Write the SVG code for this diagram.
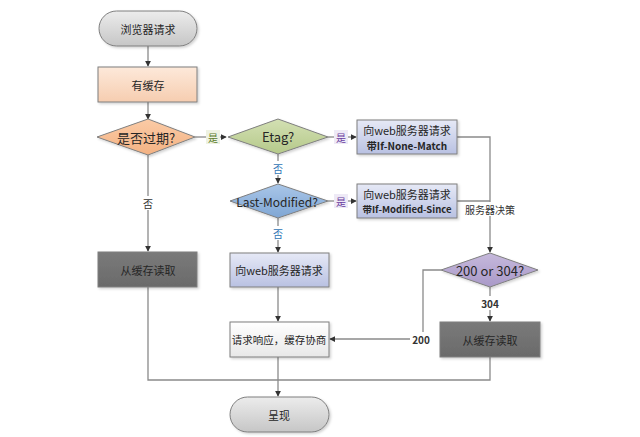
<svg xmlns="http://www.w3.org/2000/svg" width="640" height="437" viewBox="0 0 640 437">
<defs>
<linearGradient id="gGray" x1="0" y1="0" x2="0" y2="1"><stop offset="0" stop-color="#ececec"/><stop offset="1" stop-color="#c6c6c6"/></linearGradient>
<linearGradient id="gPeach" x1="0" y1="0" x2="0" y2="1"><stop offset="0" stop-color="#fde9da"/><stop offset="1" stop-color="#f6cdb0"/></linearGradient>
<linearGradient id="gOrange" x1="0" y1="0" x2="0" y2="1"><stop offset="0" stop-color="#fbcba6"/><stop offset="1" stop-color="#f3b283"/></linearGradient>
<linearGradient id="gGreen" x1="0" y1="0" x2="0" y2="1"><stop offset="0" stop-color="#d3e0b3"/><stop offset="1" stop-color="#b5c98a"/></linearGradient>
<linearGradient id="gBlue" x1="0" y1="0" x2="0" y2="1"><stop offset="0" stop-color="#a9c6e8"/><stop offset="1" stop-color="#7fa6d4"/></linearGradient>
<linearGradient id="gLav" x1="0" y1="0" x2="0" y2="1"><stop offset="0" stop-color="#e6e9f6"/><stop offset="1" stop-color="#b9c1e2"/></linearGradient>
<linearGradient id="gPurple" x1="0" y1="0" x2="0" y2="1"><stop offset="0" stop-color="#c6b9dc"/><stop offset="1" stop-color="#a999c8"/></linearGradient>
<linearGradient id="gWhite" x1="0" y1="0" x2="0" y2="1"><stop offset="0" stop-color="#ffffff"/><stop offset="1" stop-color="#e8e8e8"/></linearGradient>
<linearGradient id="gDark" x1="0" y1="0" x2="0" y2="1"><stop offset="0" stop-color="#7a7a7a"/><stop offset="1" stop-color="#6a6a6a"/></linearGradient>
<filter id="sh" x="-10%" y="-10%" width="125%" height="130%"><feDropShadow dx="1.5" dy="1.5" stdDeviation="1" flood-color="#000" flood-opacity="0.18"/></filter>
<marker id="arr" viewBox="0 0 8 8" refX="7" refY="4" markerWidth="6" markerHeight="6" orient="auto" markerUnits="userSpaceOnUse"><path d="M0,0 L8,4 L0,8 z" fill="#333"/></marker>
</defs>
<style>
.n{stroke:#7f7f7f;stroke-width:1;filter:url(#sh)}
.t{font-family:"Microsoft YaHei","Noto Sans CJK SC","Noto Sans",sans-serif;font-size:11px;fill:#262626;text-anchor:middle;dominant-baseline:central}
.b{font-weight:bold}
.big{font-size:13px}
.m{font-size:12px}
.s{font-size:10px}
.xs{font-size:9.5px}
.c{fill:none;stroke:#8a8a8a;stroke-width:1.3}
.a{marker-end:url(#arr)}
.l{font-family:"Microsoft YaHei","Noto Sans CJK SC","Noto Sans",sans-serif;font-size:10px;text-anchor:middle;dominant-baseline:central}
</style>
<rect width="640" height="437" fill="#ffffff"/>
<g id="connectors">
<path class="c a" d="M148,46 V66"/>
<path class="c a" d="M148,102 V119"/>
<path class="c a" d="M195,137 H226"/>
<path class="c a" d="M328,137 H356"/>
<path class="c a" d="M278,154 V183"/>
<path class="c a" d="M328,201 H356"/>
<path class="c" d="M457,137 H490 V201"/>
<path class="c" d="M457,201 H490"/>
<path class="c a" d="M490,201 V252"/>
<path class="c a" d="M148,155 V251"/>
<path class="c a" d="M278,218 V252"/>
<path class="c a" d="M278,287 V321"/>
<path class="c a" d="M490,287 V321"/>
<path class="c a" d="M441,270 H423 V339 H330"/>
<path class="c" d="M148,287 V380 H490 V357"/>
<path class="c a" d="M278,357 V396"/>
<g id="labels">
<rect x="206" y="130" width="14" height="14" fill="#eef2e2"/>
<text class="l" x="213" y="137" fill="#5a7a2a">是</text>
<rect x="334" y="130" width="14" height="14" fill="#eeeaf6"/>
<text class="l" x="341" y="137" fill="#6a3aa0">是</text>
<rect x="334" y="194" width="14" height="14" fill="#eeeaf6"/>
<text class="l" x="341" y="201" fill="#6a3aa0">是</text>
<rect x="271" y="161" width="14" height="14" fill="#ffffff"/>
<text class="l" x="278" y="168" fill="#2f75b5">否</text>
<rect x="271" y="226" width="14" height="14" fill="#ffffff"/>
<text class="l" x="278" y="233" fill="#2f75b5">否</text>
<rect x="141" y="196" width="14" height="14" fill="#ffffff"/>
<text class="l" x="148" y="203" fill="#333">否</text>
<rect x="464" y="202" width="52" height="14" fill="#ffffff"/>
<text class="l" x="490" y="209" fill="#333">服务器决策</text>
<rect x="480" y="296" width="20" height="14" fill="#ffffff"/>
<text class="l" x="490" y="303" fill="#333" font-weight="bold">304</text>
<rect x="410" y="332" width="22" height="14" fill="#ffffff"/>
<text class="l" x="421" y="339" fill="#333" font-weight="bold">200</text>
</g>
</g>
<g id="start"><rect class="n" x="99" y="11" width="98" height="35" rx="17.5" fill="url(#gGray)"/><text class="t" x="148" y="28.5">浏览器请求</text></g>
<g id="hasCache"><rect class="n" x="98" y="67" width="99" height="35" fill="url(#gPeach)"/><text class="t" x="148" y="84.5">有缓存</text></g>
<g id="expired"><polygon class="n" points="148,119 195,137 148,155 97,137" fill="url(#gOrange)"/><text class="t big" x="146" y="137">是否过期?</text></g>
<g id="etag"><polygon class="n" points="278,119 328,137 278,154 228,137" fill="url(#gGreen)"/><text class="t big" x="278" y="136.5">Etag?</text></g>
<g id="reqNoneMatch"><rect class="n" x="357" y="120" width="100" height="34" fill="url(#gLav)"/><text class="t" x="407" y="130">向web服务器请求</text><text class="t b s" x="407" y="145">带If-None-Match</text></g>
<g id="lastModified"><polygon class="n" points="278,184 328,201 278,218 230,201" fill="url(#gBlue)"/><text class="t m" x="277" y="201">Last-Modified?</text></g>
<g id="reqModifiedSince"><rect class="n" x="357" y="184" width="100" height="34" fill="url(#gLav)"/><text class="t" x="407" y="194">向web服务器请求</text><text class="t b xs" x="407" y="209">带If-Modified-Since</text></g>
<g id="readCache1"><rect class="n" x="98" y="252" width="99" height="35" fill="url(#gDark)" stroke="#555"/><text class="t" x="148" y="269.5">从缓存读取</text></g>
<g id="reqServer"><rect class="n" x="230" y="253" width="99" height="34" fill="url(#gLav)"/><text class="t" x="279" y="270">向web服务器请求</text></g>
<g id="status"><polygon class="n" points="490,253 538,270 490,287 441,270" fill="url(#gPurple)"/><text class="t big" x="490" y="270">200 or 304?</text></g>
<g id="negotiate"><rect class="n" x="230" y="322" width="99" height="35" fill="url(#gWhite)"/><text class="t" x="279" y="339.5" style="font-size:10.5px">请求响应，缓存协商</text></g>
<g id="readCache2"><rect class="n" x="440" y="322" width="100" height="35" fill="url(#gDark)" stroke="#555"/><text class="t" x="490" y="339.5">从缓存读取</text></g>
<g id="render"><rect class="n" x="230" y="397" width="99" height="35" rx="17.5" fill="url(#gGray)"/><text class="t" x="279" y="414.5">呈现</text></g>
</svg>
